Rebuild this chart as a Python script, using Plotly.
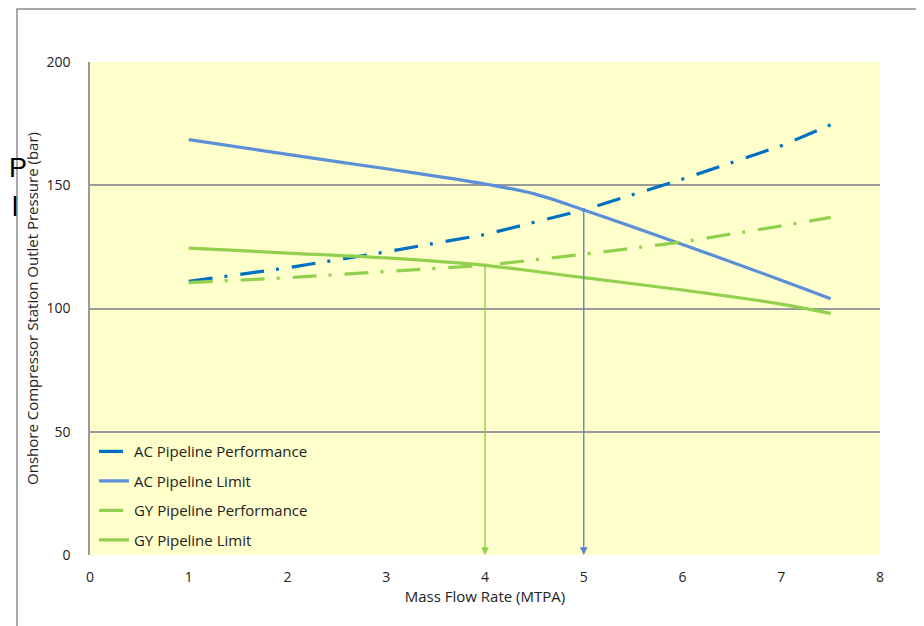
import plotly.graph_objects as go

# ---- data ----
mass_flow = [1, 2, 3, 4, 5, 6, 7, 7.5]
ac_performance = [111, 116.5, 123, 130, 140, 152.5, 166, 174.5]
ac_limit_x = [1, 2, 3, 4, 4.5, 5, 6, 7, 7.5]
ac_limit = [168.5, 162.5, 156.7, 150.5, 146.5, 140, 126, 111.5, 104]
gy_performance = [110.5, 112.5, 115, 117.5, 122, 127, 133.5, 137]
gy_limit = [124.5, 122.5, 120.5, 117.5, 112.5, 107.5, 101.8, 98]

arrow_points = [(4, 117.5, "#92D050"), (5, 140, "#5B86CC")]

x_ticks = [0, 1, 2, 3, 4, 5, 6, 7, 8]
y_ticks = [0, 50, 100, 150, 200]

FONT = "'Open Sans', Lato, sans-serif"
DASHDOT = "24px,12px,3px,13px"

fig = go.Figure()
fig.add_trace(go.Scatter(x=mass_flow, y=ac_performance, mode="lines", name="AC Pipeline Performance",
                         legendgroup="a", line=dict(color="#0070C0", width=3.2, dash=DASHDOT)))
fig.add_trace(go.Scatter(x=ac_limit_x, y=ac_limit, mode="lines", name="AC Pipeline Limit",
                         legendgroup="b", line=dict(color="#5B8FD8", width=3.2, shape="spline", smoothing=1.0)))
fig.add_trace(go.Scatter(x=mass_flow, y=gy_performance, mode="lines", name="GY Pipeline Performance",
                         legendgroup="c", line=dict(color="#92D050", width=3.2, dash=DASHDOT)))
fig.add_trace(go.Scatter(x=mass_flow, y=gy_limit, mode="lines", name="GY Pipeline Limit",
                         legendgroup="d", line=dict(color="#92D050", width=3.2, shape="spline", smoothing=0.8)))

annotations = []
for xv, yv, col in arrow_points:
    annotations.append(dict(x=xv, y=0, ax=xv, ay=yv, xref="x", yref="y", axref="x", ayref="y",
                            showarrow=True, arrowhead=2, arrowsize=1.1, arrowwidth=1.4,
                            arrowcolor=col, text=""))

# cropped slide text fragments at the far left
annotations.append(dict(x=-0.1045, y=0.785, xref="paper", yref="paper", text="P", showarrow=False,
                        xanchor="left", yanchor="middle",
                        font=dict(family="'Liberation Sans', Arial, sans-serif", size=27, color="#000")))
annotations.append(dict(x=-0.1010, y=0.705, xref="paper", yref="paper", text="l", showarrow=False,
                        xanchor="left", yanchor="middle",
                        font=dict(family="'Liberation Sans', Arial, sans-serif", size=27, color="#000")))

shapes = [dict(type="rect", xref="paper", yref="paper", x0=-0.0924, x1=1.3, y0=-0.3, y1=1.1075,
               line=dict(color="#8c8c8c", width=1.5), fillcolor="rgba(0,0,0,0)", layer="below")]

fig.update_layout(
    width=916, height=618,
    margin=dict(l=82, r=44, t=54, b=71),
    paper_bgcolor="white", plot_bgcolor="#FFFFCC",
    font=dict(family=FONT, size=14, color="#222"),
    showlegend=True,
    legend=dict(x=0.005, y=0.243, xanchor="left", yanchor="top", bgcolor="rgba(0,0,0,0)",
                font=dict(size=15, color="#222"), tracegroupgap=7, itemwidth=30),
    annotations=annotations,
    shapes=shapes,
    xaxis=dict(range=[0, 8], tickvals=x_ticks, showgrid=False, zeroline=False,
               showline=False, ticks="", ticklabelstandoff=12, tickfont=dict(size=14),
               title=dict(text="Mass Flow Rate (MTPA)", standoff=6, font=dict(size=15))),
    yaxis=dict(range=[0, 200], tickvals=y_ticks, showgrid=True, gridcolor="#9a9a9a", gridwidth=1.5,
               zeroline=False, showline=True, linecolor="#9a9a9a", linewidth=1.5, ticks="",
               ticklabelstandoff=15, tickfont=dict(size=14),
               title=dict(text="Onshore Compressor Station Outlet Pressure (bar)", standoff=4,
                          font=dict(size=15))),
)

fig.write_html("out.html")
